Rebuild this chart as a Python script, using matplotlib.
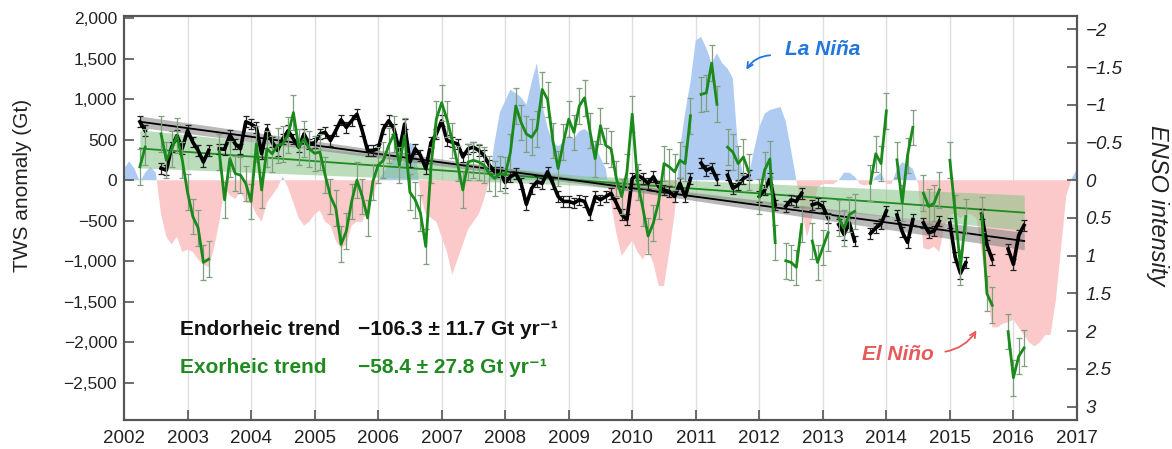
import numpy as np
import matplotlib
matplotlib.use('Agg')
import matplotlib.pyplot as plt

plt.rcParams['font.family'] = ['Liberation Sans', 'DejaVu Sans']

nan = np.nan

# GRACE months, April 2002 .. March 2016 (NaN = missing month)
months = 2002.25 + np.arange(168) / 12

endorheic = np.array([
    720, 610, nan, nan, 146, 122, 406, 549, 390, 610, 467, 366,
    223, 366, nan, 386, 380, 557, 447, 386, 720, 691, 650, 325,
    630, 467, 366, 508, 610, 508, 406, 569, 447, 460, 569, 589,
    488, 610, 744, 650, 732, 813, 610, 366, 366, 386, 630, 732,
    630, 366, 691, 223, 386, 305, 142, 467, 569, 732, 488, 467,
    447, 285, 386, 406, 366, 305, 183, 102, 102, -30, 41, 81,
    -41, -300, -102, -20, -41, 102, -41, -203, -264, -264, -285, -244,
    -264, -427, -203, -244, -203, -163, -285, -427, -488, 20, 61, 20,
    -41, 41, -81, -122, -142, -203, -41, -203, 20, nan, 210, 120,
    150, 10, nan, 61, -102, -61, 20, 61, nan, -203, -122, 20,
    -305, nan, -325, -244, -264, -163, nan, -305, -285, -325, -467, nan,
    -549, -671, -528, -752, nan, nan, -660, -590, -540, -380, nan, -430,
    -640, -770, -488, nan, -528, -650, -630, -508, nan, -530, -950, -1150,
    -1020, nan, nan, -420, -800, -980, nan, nan, -850, -1040, -680, -560])

exorheic = np.array([
    163, 406, nan, nan, 569, 244, 386, 549, 250, -150, -450, -590,
    -1016, -976, nan, 346, -244, 264, 81, 61, -41, -264, 447, -122,
    386, 325, 427, 447, 560, 833, 406, 508, 386, 330, 346, 61,
    -203, -346, -793, -630, -264, 0, -203, -467, -20, 183, 244, 427,
    569, 183, 549, -150, -244, -406, -820, 183, 752, 955, 752, 488,
    203, -122, 223, 244, 223, 183, 81, 20, 81, 61, 346, 915,
    711, 569, 528, 630, 1118, 996, 488, 142, 467, 752, 589, 915,
    1016, 610, 264, 671, 427, 386, 20, -203, 102, 813, -20, -346,
    -691, -528, -264, 203, 163, 102, 244, 203, 793, nan, 1057, 1077,
    1443, 935, nan, 406, 346, 203, 285, 102, nan, -203, 122, 260,
    -772, nan, -996, -1016, -1077, -549, nan, -752, -1016, -833, -650, nan,
    -467, -590, -427, -386, nan, nan, -40, 325, 203, 854, nan, 250,
    -285, 305, 650, nan, -163, -325, -285, -122, nan, 244, -400, -1080,
    -450, nan, nan, -427, -1402, -1545, nan, nan, -1870, -2439, -2175, -2073])

endo_err = 65
exo_err = 220

# linear trends and their confidence bands
trend_t = [2002.25, 2016.17]
endo_trend = [720, -752]
exo_trend = [390, -402]
band_t = [2002.25, 2009.21, 2016.17]
endo_band_lo = [650, -46, -860]
endo_band_hi = [790, 14, -645]
exo_band_lo = [150, -66, -620]
exo_band_hi = [620, 54, -185]

# ENSO index, monthly Jan 2002 .. Jan 2017 (positive = El Nino)
enso_t = 2002 + np.arange(181) / 12
enso = np.array([
    -0.15, -0.25, -0.15, 0.02, -0.1, -0.18, -0.1, 0.45, 0.75, 0.85, 0.75, 0.95,
    0.92, 0.95, 1.05, 1.12, 1.15, 0.9, 0.55, 0.1, 0.2, 0.25, 0.15, 0.3,
    0.3, 0.45, 0.55, 0.3, 0.2, 0.1, -0.05, 0.1, 0.3, 0.5, 0.6, 0.55,
    0.45, 0.4, 0.55, 0.6, 0.8, 0.9, 0.85, 0.6, 0.55, 0.55, 0.4, 0.2,
    0.0, -0.1, -0.2, -0.3, -0.2, -0.25, -0.5, -0.45, 0.2, 0.45, 0.5, 0.55,
    0.75, 0.95, 1.25, 1.05, 0.85, 0.65, 0.55, 0.45, 0.25, 0.0, -0.5, -0.9,
    -1.05, -1.2, -1.15, -1.1, -1.0, -1.3, -1.55, -1.0, -0.7, -0.5, -0.45, -0.5,
    -0.6, -0.55, -0.65, -0.68, -0.62, -0.45, -0.3, -0.15, 0.3, 0.7, 1.0, 0.9,
    0.8, 0.95, 1.05, 0.93, 1.1, 1.4, 1.4, 0.95, 0.45, -0.4, -0.9, -1.3,
    -1.85, -1.9, -1.75, -1.55, -1.68, -1.55, -1.48, -1.35, -0.4, -0.05, -0.05, -0.4,
    -0.7, -0.88, -0.93, -0.95, -0.97, -0.78, -0.4, 0.0, 0.4, 0.75, 0.5, 0.1,
    0.05, 0.05, 0.05, 0.0, -0.1, -0.1, -0.05, 0.05, 0.07, 0.05, -0.05, -0.1,
    0.05, 0.05, -0.15, -0.24, -0.2, -0.15, 0.05, 0.9, 0.92, 0.88, 0.95, 0.6,
    0.45, 0.45, 0.5, 0.45, 0.45, 0.5, 0.95, 1.45, 1.95, 1.95, 1.9, 1.88,
    1.85, 1.95, 2.05, 2.15, 2.2, 2.15, 2.05, 2.05, 1.6, 0.9, 0.2, -0.02,
    -0.15])

years = np.arange(2002, 2018)
left_ticks = np.arange(-2500, 2001, 500)
left_labels = ['−2,500', '−2,000', '−1,500', '−1,000', '−500', '0',
               '500', '1,000', '1,500', '2,000']
right_ticks = np.arange(-2, 3.01, 0.5)
right_labels = ['−2', '−1.5', '−1', '−0.5', '0', '0.5', '1', '1.5', '2', '2.5', '3']

fig = plt.figure(figsize=(11.72, 4.49), dpi=100)
ax = fig.add_axes([0.1058, 0.0646, 0.8131, 0.8998])
ax2 = ax.twinx()
ax.set_zorder(ax2.get_zorder() + 1)
ax.patch.set_visible(False)

# background: year grid + ENSO shading (right axis, inverted)
for yr in years[1:-1]:
    ax2.axvline(yr, color='#dedede', lw=1, zorder=0)
ax2.fill_between(enso_t, enso, 0, where=enso >= 0, interpolate=True,
                 color='#fbc9c9', lw=0, zorder=1)
ax2.fill_between(enso_t, enso, 0, where=enso <= 0, interpolate=True,
                 color='#afcbf1', lw=0, zorder=1)
ax2.set_ylim(3.176, -2.176)
ax2.set_yticks(right_ticks)
ax2.set_yticklabels(right_labels, fontstyle='italic')

# trends
ax.fill_between(band_t, exo_band_lo, exo_band_hi, color='#86c286', alpha=0.55, lw=0)
ax.fill_between(band_t, endo_band_lo, endo_band_hi, color='#808080', alpha=0.55, lw=0)
ax.plot(trend_t, exo_trend, color='#1e8c1e', lw=1.3)
ax.plot(trend_t, endo_trend, color='black', lw=1.3)

# series
ax.errorbar(months, endorheic, yerr=endo_err, fmt='none', ecolor='#222222',
            elinewidth=0.9, capsize=2.5, capthick=0.9)
ax.plot(months, endorheic, color='black', lw=2.6, solid_joinstyle='round')
ax.errorbar(months, exorheic, yerr=exo_err, fmt='none', ecolor='#7f9f7f',
            elinewidth=0.9, capsize=2.5, capthick=0.9)
ax.plot(months, exorheic, color='#1a8a1a', lw=2.0, solid_joinstyle='round')

ax.set_xlim(2002, 2017)
ax.set_ylim(-2961, 2025)
ax.set_xticks(years)
ax.set_yticks(left_ticks)
ax.set_yticklabels(left_labels)

for a in (ax, ax2):
    for s in a.spines.values():
        s.set_color('#555555')
        s.set_linewidth(1.5)
ax.tick_params(axis='both', direction='in', length=7, width=1.2, color='#555555',
               labelcolor='#222222')
ax.tick_params(axis='y', labelsize=12.5, pad=5)
ax.tick_params(axis='x', labelsize=13.5, pad=7)
ax2.tick_params(axis='y', direction='in', length=7, width=1.2, color='#555555',
                labelcolor='#222222', labelsize=13.5, pad=6)

fig.text(22 / 1172, 1 - 185 / 449, 'TWS anomaly (Gt)', rotation=90,
         ha='center', va='center', fontsize=15, color='#222222')
fig.text(1157 / 1172, 1 - 205 / 449, 'ENSO intensity', rotation=270,
         ha='center', va='center', fontsize=17, fontstyle='italic', color='#222222')

# trend annotations
ax.text(0.0588, 0.223, 'Endorheic trend', transform=ax.transAxes, fontsize=15,
        fontweight='bold', color='#111111', va='center')
ax.text(0.2455, 0.223, '−106.3 ± 11.7 Gt yr⁻¹', transform=ax.transAxes, fontsize=15,
        fontweight='bold', color='#111111', va='center')
ax.text(0.0588, 0.131, 'Exorheic trend', transform=ax.transAxes, fontsize=15,
        fontweight='bold', color='#1f8a1f', va='center')
ax.text(0.2455, 0.131, '−58.4 ± 27.8 Gt yr⁻¹', transform=ax.transAxes, fontsize=15,
        fontweight='bold', color='#1f8a1f', va='center')

# ENSO phase labels
ax.text(0.6936, 0.916, 'La Niña', transform=ax.transAxes, fontsize=15,
        fontweight='bold', fontstyle='italic', color='#2277dd', va='center')
ax.annotate('', xy=(0.6516, 0.861), xytext=(0.681, 0.903), xycoords='axes fraction',
            arrowprops=dict(arrowstyle='->', color='#2277dd', lw=1.3,
                            connectionstyle='arc3,rad=0.3'))
ax.text(0.7744, 0.161, 'El Niño', transform=ax.transAxes, fontsize=15,
        fontweight='bold', fontstyle='italic', color='#e85a5a', va='center')
ax.annotate('', xy=(0.896, 0.228), xytext=(0.859, 0.168), xycoords='axes fraction',
            arrowprops=dict(arrowstyle='->', color='#e85a5a', lw=1.3,
                            connectionstyle='arc3,rad=0.25'))

fig.savefig('out.png', dpi=100)
